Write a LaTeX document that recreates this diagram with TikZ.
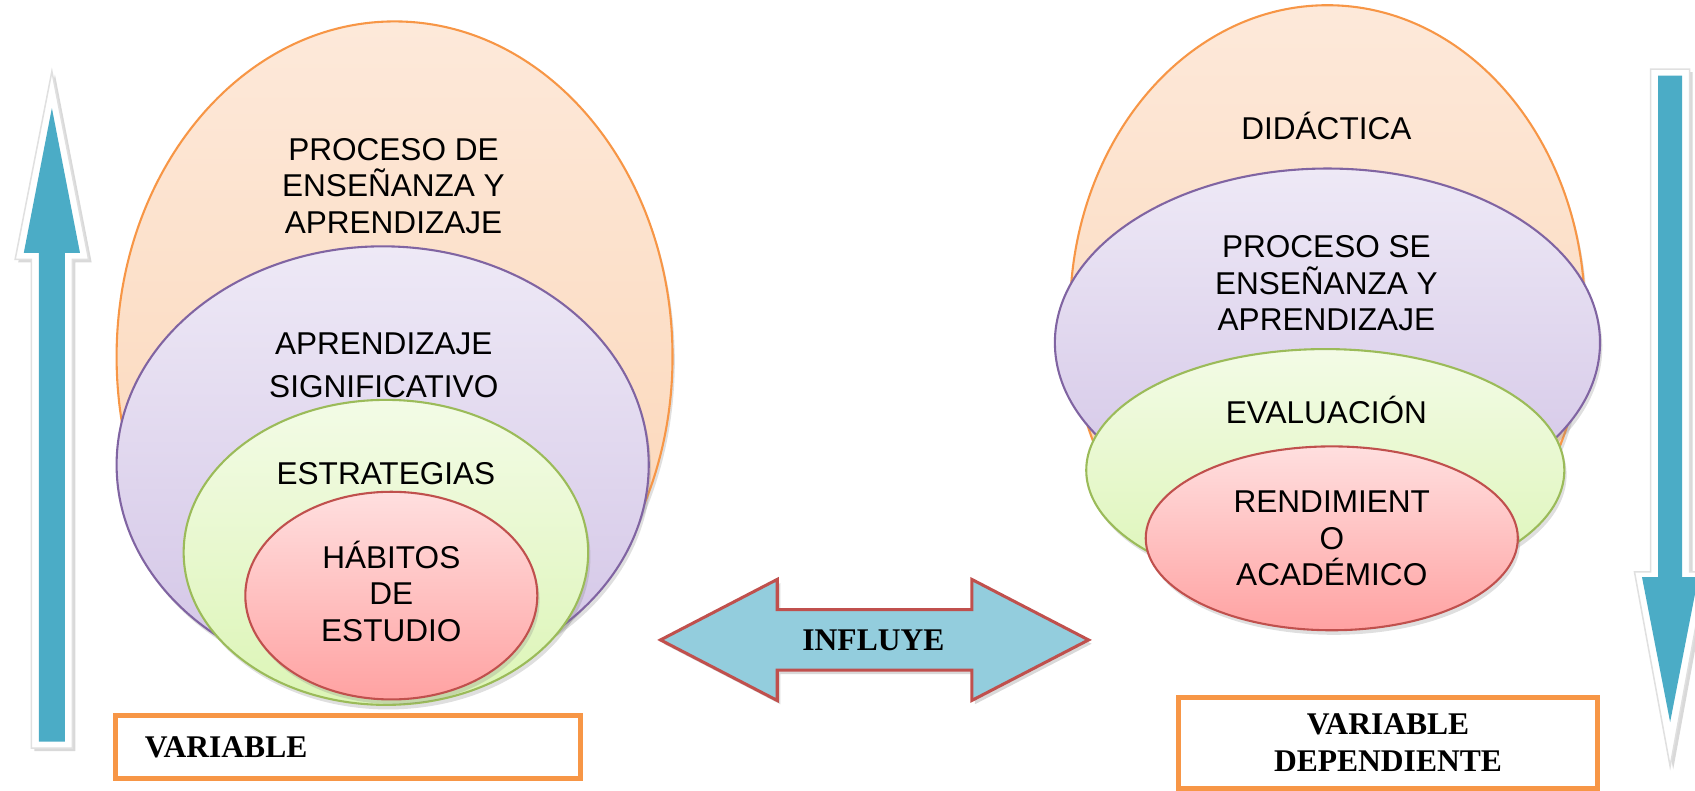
\documentclass[tikz,border=0pt]{standalone}
\usepackage{fontspec}
\setmainfont{Liberation Sans}
\newfontfamily\timesfont{Liberation Serif}
\usetikzlibrary{shapes, positioning, shadows}

\definecolor{naranja}{HTML}{F79646}
\definecolor{naranjaA}{HTML}{FDE9DA}
\definecolor{naranjaB}{HTML}{FBD3B2}
\definecolor{lila}{HTML}{8064A2}
\definecolor{lilaA}{HTML}{EEE9F6}
\definecolor{lilaB}{HTML}{D2C4E6}
\definecolor{verde}{HTML}{9BBB59}
\definecolor{verdeA}{HTML}{F3FBE6}
\definecolor{verdeB}{HTML}{DCF5B6}
\definecolor{rojo}{HTML}{C0504D}
\definecolor{rojoA}{HTML}{FFDFDF}
\definecolor{rojoB}{HTML}{FFA2A2}
\definecolor{azul}{HTML}{4BACC6}
\definecolor{celeste}{HTML}{93CDDD}

\begin{document}
\begin{tikzpicture}[x=0.01cm, y=-0.01cm,
    capa/.style={ellipse, draw=#1, line width=0.55pt, inner sep=0pt,
        top color=#1A, bottom color=#1B,
        drop shadow={shadow xshift=0.6pt, shadow yshift=-1.2pt, opacity=0.25}},
    texto/.style={align=center, font=\fontsize{8.3}{9.65}\selectfont},
    negrita/.style={align=center, font=\timesfont\bfseries\fontsize{8.3}{9.65}\selectfont},
    caja/.style={draw=naranja, line width=1.3pt, inner sep=0pt},
    borde/.style={fill=white, draw=black!12, line width=0.4pt,
        drop shadow={shadow xshift=0.8pt, shadow yshift=-0.8pt, opacity=0.3}}]
    \useasboundingbox (0,0) rectangle (1568,731);

    \draw[borde] (48,66) -- (82,240) -- (67,240) -- (67,692) -- (29,692) -- (29,240) -- (14,240) -- cycle;
    \fill[azul] (48,100) -- (74,234) -- (60,234) -- (60,686) -- (36,686) -- (36,234) -- (22,234) -- cycle;

    \draw[borde] (1545,709) -- (1578,529) -- (1563,529) -- (1563,64) -- (1527,64) -- (1527,529) -- (1512,529) -- cycle;
    \fill[azul] (1545,668) -- (1571,534) -- (1556,534) -- (1556,70) -- (1534,70) -- (1534,534) -- (1519,534) -- cycle;

    \node[capa=naranja, minimum width=5.14cm, minimum height=6.2cm] (procesoI) at (365,330) {};
    \node[capa=lila, minimum width=4.92cm, minimum height=4.04cm] (aprendizajeI) at (354,430) {};
    \node[capa=verde, minimum width=3.74cm, minimum height=2.82cm] (estrategiasI) at (357,511) {};
    \node[capa=rojo, minimum width=2.70cm, minimum height=1.92cm] (habitosI) at (362,551) {};

    \node[texto] (tProcesoI) at (364,172) {PROCESO DE\\ENSEÑANZA Y\\APRENDIZAJE};
    \node[texto] (tAprendizajeI) at (355,338) {APRENDIZAJE\\[1.5pt]SIGNIFICATIVO};
    \node[texto] (tEstrategiasI) at (357,438) {ESTRATEGIAS};
    \node[texto] (tHabitosI) at (362,547) {HÁBITOS\\DE\\ESTUDIO};

    \node[capa=naranja, minimum width=4.76cm, minimum height=5.7cm] (didacticaD) at (1228,290) {};
    \node[capa=lila, minimum width=5.04cm, minimum height=3.22cm] (procesoD) at (1228,317) {};
    \node[capa=verde, minimum width=4.42cm, minimum height=2.24cm] (evaluacionD) at (1226,435) {};
    \node[capa=rojo, minimum width=3.44cm, minimum height=1.70cm] (rendimientoD) at (1232,498) {};

    \node[texto] (tDidacticaD) at (1227,117) {DIDÁCTICA};
    \node[texto] (tProcesoD) at (1227,262) {PROCESO SE\\ENSEÑANZA Y\\APRENDIZAJE};
    \node[texto] (tEvaluacionD) at (1227,379) {EVALUACIÓN};
    \node[texto] (tRendimientoD) at (1232,498) {RENDIMIENT\\O\\ACADÉMICO};

    \draw[fill=celeste, draw=rojo, line width=0.8pt, drop shadow={shadow xshift=0.8pt, shadow yshift=-1pt, opacity=0.3}]
        (611,592) -- (719,536) -- (719,564) -- (899,564) -- (899,536) -- (1007,592)
        -- (899,648) -- (899,620) -- (719,620) -- (719,648) -- cycle;
    \node[negrita] (influye) at (808,592) {INFLUYE};

    \node[caja, minimum width=4.30cm, minimum height=0.58cm] (cajaI) at (322,691) {};
    \node[negrita, anchor=west] (variableI) at ([xshift=0.17cm]cajaI.west) {VARIABLE};
    \node[caja, minimum width=3.87cm, minimum height=0.84cm] (cajaD) at (1284,687) {};
    \node[negrita] (variableD) at (cajaD) {VARIABLE\\DEPENDIENTE};
\end{tikzpicture}
\end{document}
